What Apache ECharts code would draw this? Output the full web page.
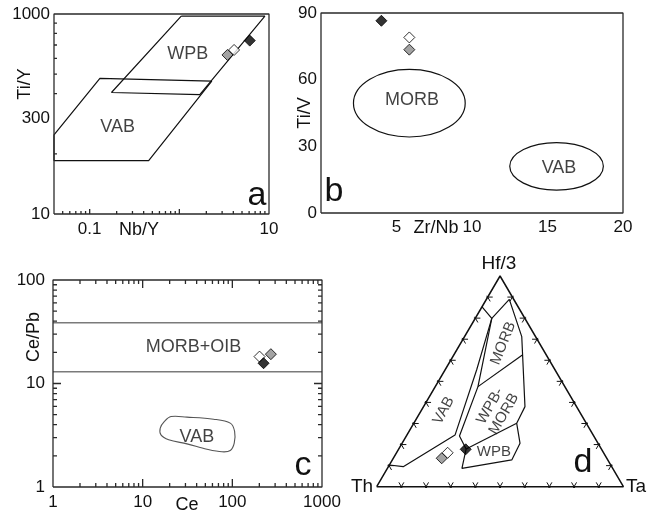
<!DOCTYPE html>
<html><head><meta charset="utf-8">
<script src="https://cdn.jsdelivr.net/npm/echarts@6/dist/echarts.min.js"></script>
<style>html,body{margin:0;padding:0;background:#fff}#c{width:650px;height:513px}</style>
</head><body><div id="c"></div>
<script>
// ---------- Panel a: Ti/Y vs Nb/Y (log-log) ----------
const aXTickValues = [0.1, 10];
const aXTickLabels = ['0.1', '10'];
const aXMajorTicks = [0.1, 1];
const aXMinorTicks = [0.05,0.06,0.07,0.08,0.09,0.2,0.3,0.4,0.5,0.6,0.7,0.8,0.9,2,3,4,5,6,7,8,9];
const aYTickValues = [100, 300, 1000];
const aYTickLabels = ['10', '300', '1000'];
const aYMinorTicks = [200,400,500,600,700,800,900];
const aFieldVAB = [[0.04,249],[0.13,477],[2.3,462],[0.455,185],[0.04,185],[0.04,249]];
const aFieldWPB = [[1.05,975],[9.0,975],[1.69,395],[0.175,405],[1.05,975]];
const aSamples = [[3.44,624],[4.08,661],[6.1,736]];          // gray, white, black
const aFieldLabels = [['WPB',1.24,631],['VAB',0.205,273]];

// ---------- Panel b: Ti/V vs Zr/Nb ----------
const bXTickValues = [5,10,15,20];
const bYTickValues = [0,30,60,90];
const bFields = [['MORB',5.85,49.4,3.7,15.2],['VAB',15.6,21,3.1,10.7]];   // name, cx, cy, rx, ry
const bSamples = [[5.85,73.5],[5.85,79],[4,86.5]];
const bFieldLabels = [['MORB',6.03,50.9],['VAB',15.76,20.3]];

// ---------- Panel c: Ce/Pb vs Ce (log-log) ----------
const cXTickValues = [1,10,100,1000];
const cXTickLabels = ['1','10','100','1000'];
const cYTickValues = [1,10,100];
const cYTickLabels = ['1','10','100'];
const cXMinorTicks = [2,3,4,5,6,7,8,9,20,30,40,50,60,70,80,90,200,300,400,500,600,700,800,900];
const cYMinorTicks = [2,3,4,5,6,7,8,9,20,30,40,50,60,70,80,90];
const cBounds = [38.7, 13.0];
const cFieldVAB = [[20.7,4.79],[31.2,4.73],[61.7,4.52],[94.8,4.14],[106,3.44],[105,2.65],[94.8,2.25],[76.6,2.19],[52.1,2.32],[31.2,2.61],[19.5,2.86],[16,3.19],[15.7,3.71],[17.4,4.28]];
const cSamples = [[269,19.2],[201,18.2],[223,15.7]];
const cFieldLabels = [['MORB+OIB',36.9,22.7],['VAB',40.3,3.03]];

// ---------- Panel d: Th - Hf/3 - Ta ternary (percent: Th, Hf/3, Ta) ----------
const dTriangle = [[100,0,0],[0,100,0],[0,0,100],[100,0,0]];
const dTickFractions = [10,20,30,40,50,60,70,80,90];
const dFieldVAB = [[89.7,10.3,0],[84.5,9.5,6.0],[56.0,24.5,19.5],[31.8,55.4,12.8],[13.4,79.9,6.7],[14.6,85.4,0]];
const dFieldOuter = [[13.4,79.9,6.7],[1.8,88.9,9.3],[5.6,71.2,23.2],[20.9,38.0,41.1],[28.2,30.1,41.7],[31.6,20.6,47.8],[38.9,12.7,48.4],[61.1,8.7,30.2],[54.8,17.9,27.3],[54.4,24.1,21.5],[35.2,47.5,17.3],[13.4,79.9,6.7]];
const dDividerMORB = [[9.7,62.5,27.8],[35.2,47.5,17.3]];
const dDividerWPB = [[28.2,30.1,41.7],[54.8,17.9,27.3]];
const dSamples = [[66.9,13.5,19.6],[63.2,16.1,20.7],[55.05,17.75,27.2]];
const dFieldLabels = [['VAB',59.9,39.6,9.9,62],['MORB',14.7,68.1,17.3,68],['WPB-\nMORB',33.0,36.4,30.6,60],['WPB',44.3,16.5,39.3,0]];

const sampleFill = ['#8c8c8c','#ffffff','#000000'];

// ---------- layout ----------
const GRIDS = [
  {left:54, top:14, width:215, height:200, show:false},
  {left:321, top:13, width:302, height:200, show:false},
  {left:53, top:280, width:269, height:207, show:false},
  {left:376.7, top:276, width:246.7, height:210.7, show:false}
];

// ---------- helpers ----------
const L = Math.log10;
const FONT = '"Liberation Sans", Arial, Helvetica, sans-serif';
const INK = '#111';
const logPts = arr => arr.map(p => [L(p[0]), L(p[1])]);
function tern(p){ const s = p[0]+p[1]+p[2]; const hf = p[1]/s, ta = p[2]/s; return [ta + hf/2, hf]; }
function labelFor(values, labels){ return v => { for (let i=0;i<values.length;i++) if (Math.abs(L(values[i]) - v) < 1e-6) return labels[i]; return ''; }; }
const lblBase = {color: INK, fontSize: 17, fontFamily: FONT};

function logAxis(grid, pos, min, max, labelVals, labelFmt, margin){
  return {gridIndex: grid, type: 'value', position: pos, min: L(min), max: L(max),
    splitLine: {show:false}, splitArea: {show:false}, axisLine: {show:false, onZero:false}, axisTick: {show:false},
    axisLabel: Object.assign({}, lblBase, {margin: margin, customValues: labelVals.map(L), formatter: labelFmt})};
}
function linAxis(grid, min, max, labelVals, margin){
  return {gridIndex: grid, type:'value', min: min, max: max, splitLine:{show:false}, splitArea:{show:false},
    axisLine:{show:false, onZero:false}, axisTick:{show:false},
    axisLabel: Object.assign({}, lblBase, {margin: margin, customValues: labelVals})};
}

const xAxis = [
  logAxis(0,'bottom',0.04,10,aXTickValues,labelFor(aXTickValues,aXTickLabels),7),
  linAxis(1, 0, 20, bXTickValues, 6),
  logAxis(2,'bottom',1,1000,cXTickValues,labelFor(cXTickValues,cXTickLabels),7),
  {gridIndex:3, type:'value', min:0, max:1, show:false}
];
const yAxis = [
  logAxis(0,'left',100,1000,aYTickValues,labelFor(aYTickValues,aYTickLabels),4),
  linAxis(1, 0, 90, bYTickValues, 4),
  logAxis(2,'left',1,100,cYTickValues,labelFor(cYTickValues,cYTickLabels),8),
  {gridIndex:3, type:'value', min:0, max:1, show:false}
];

// Frame as one closed polyline around the axis ranges, with inward tick spikes on the requested sides.
// ticks: {bottom:[[v,lenPx],...], right:[...], top:[...], left:[...]}, values in axis (log) units.
function frameS(ax, g, xr, yr, ticks){
  const dx = (xr[1]-xr[0]) / GRIDS[g].width, dy = (yr[1]-yr[0]) / GRIDS[g].height;
  const srt = (arr, desc) => (arr || []).slice().sort((a,b) => desc ? b[0]-a[0] : a[0]-b[0]);
  const pts = [[xr[0], yr[0]]];
  srt(ticks.bottom).forEach(t => { if (t[0] > xr[0] && t[0] < xr[1]) pts.push([t[0], yr[0]], [t[0], yr[0] + t[1]*dy], [t[0], yr[0]]); });
  pts.push([xr[1], yr[0]]);
  srt(ticks.right).forEach(t => { if (t[0] > yr[0] && t[0] < yr[1]) pts.push([xr[1], t[0]], [xr[1] - t[1]*dx, t[0]], [xr[1], t[0]]); });
  pts.push([xr[1], yr[1]]);
  srt(ticks.top, true).forEach(t => { if (t[0] > xr[0] && t[0] < xr[1]) pts.push([t[0], yr[1]], [t[0], yr[1] - t[1]*dy], [t[0], yr[1]]); });
  pts.push([xr[0], yr[1]]);
  srt(ticks.left, true).forEach(t => { if (t[0] > yr[0] && t[0] < yr[1]) pts.push([xr[0], t[0]], [xr[0] + t[1]*dx, t[0]], [xr[0], t[0]]); });
  pts.push([xr[0], yr[0]]);
  return {type:'line', xAxisIndex: ax, yAxisIndex: ax, showSymbol:false, symbol:'none', silent:true, clip:false, z: 3,
    lineStyle:{color:'#2a2a2a', width:1.3, join:'bevel'}, animation:false, data: pts};
}
const withLen = (vals, len) => vals.map(v => [L(v), len]);

function lineS(ax, data, color, width){
  return {type:'line', xAxisIndex: ax, yAxisIndex: ax, data: data, showSymbol:false, symbol:'none', silent:true,
    lineStyle:{color: color || INK, width: width || 1.2}, z: 2, animation:false, clip:false};
}
function samplesS(ax, data){
  return {type:'scatter', xAxisIndex: ax, yAxisIndex: ax, symbol:'diamond', symbolSize: 11, z: 5, silent:true, clip:false,
    data: data.map((v,i) => ({value: v, itemStyle: {color: sampleFill[i], borderColor: '#000', borderWidth: 1}}))};
}
function labelsS(ax, items, fontSize){
  return {type:'scatter', xAxisIndex: ax, yAxisIndex: ax, symbolSize: 0, z: 4, silent:true, clip:false,
    itemStyle:{color:'#000'},
    label:{show:true, position:'inside', formatter: p => p.name, color: INK, fontSize: fontSize, fontFamily: FONT,
      lineHeight: fontSize + 1, textBorderWidth: 0, textShadowBlur: 0},
    data: items};
}

const aXR = [L(0.04), L(10)], aYR = [L(100), L(1000)], bXR = [0, 20], bYR = [0, 90], cXR = [L(1), L(1000)], cYR = [L(1), L(100)];
const cXT = withLen(cXTickValues, 8).concat(withLen(cXMinorTicks, 4));
const cYT = withLen(cYTickValues, 8).concat(withLen(cYMinorTicks, 4));
const series = [
  // a
  frameS(0, 0, aXR, aYR, {bottom: withLen(aXMajorTicks, 5).concat(withLen(aXMinorTicks, 3)), left: withLen(aYMinorTicks, 3)}),
  lineS(0, logPts(aFieldVAB)),
  lineS(0, logPts(aFieldWPB)),
  labelsS(0, aFieldLabels.map(d => ({name: d[0], value: [L(d[1]), L(d[2])]})), 18),
  samplesS(0, logPts(aSamples)),
  // b
  frameS(1, 1, bXR, bYR, {}),
  {type:'custom', xAxisIndex:1, yAxisIndex:1, silent:true, z:2, data: bFields.map(f => [f[1], f[2]]),
   renderItem: (params, api) => {
     const f = bFields[params.dataIndex];
     const c = api.coord([f[1], f[2]]);
     const s = api.size([f[3], f[4]]);
     return {type:'ellipse', shape:{cx:c[0], cy:c[1], rx:s[0], ry:s[1]}, style:{fill:'none', stroke:INK, lineWidth:1.2}};
   }},
  labelsS(1, bFieldLabels.map(d => ({name: d[0], value: [d[1], d[2]]})), 18),
  samplesS(1, bSamples),
  // c
  frameS(2, 2, cXR, cYR, {bottom: cXT, top: cXT, left: cYT, right: cYT}),
  ...cBounds.map(v => lineS(2, [[L(1), L(v)], [L(1000), L(v)]], '#7a7a7a', 1.5)),
  {type:'custom', xAxisIndex:2, yAxisIndex:2, silent:true, z:2, data: [[L(cFieldVAB[0][0]), L(cFieldVAB[0][1])]],
   renderItem: (params, api) => ({type:'polygon', shape:{points: cFieldVAB.map(p => api.coord([L(p[0]), L(p[1])])), smooth: 0.35},
     style:{fill:'none', stroke:'#555', lineWidth:1.1}})},
  labelsS(2, cFieldLabels.map(d => ({name: d[0], value: [L(d[1]), L(d[2])]})), 18),
  samplesS(2, logPts(cSamples)),
  // d
  lineS(3, dTriangle.map(tern), INK, 1.5),
  lineS(3, dFieldVAB.map(tern)),
  lineS(3, dFieldOuter.map(tern)),
  lineS(3, dDividerMORB.map(tern)),
  lineS(3, dDividerWPB.map(tern)),
  {type:'custom', xAxisIndex:3, yAxisIndex:3, silent:true, z:2,
   data: [0,1,2].flatMap(e => dTickFractions.map(f => [e, f])),
   renderItem: (params, api) => {
     const e = Math.floor(params.dataIndex / dTickFractions.length);
     const f = dTickFractions[params.dataIndex % dTickFractions.length];
     const p = e === 0 ? [100-f, 0, f] : (e === 1 ? [100-f, f, 0] : [0, 100-f, f]);
     const c = api.coord(tern(p));
     const dirs = e === 0 ? [[0.5,-0.866],[-0.5,-0.866]] : (e === 1 ? [[1,0],[0.5,0.866]] : [[-1,0],[-0.5,0.866]]);
     return {type:'group', children: dirs.map(d => ({type:'line',
       shape:{x1:c[0]-d[0]*1.5, y1:c[1]-d[1]*1.5, x2:c[0]+d[0]*5, y2:c[1]+d[1]*5},
       style:{stroke:INK, lineWidth:1}}))};
   }},
  labelsS(3, dFieldLabels.map(d => ({name: d[0], value: tern([d[1], d[2], d[3]]), label:{rotate: d[4]}})), 15),
  samplesS(3, dSamples.map(tern))
];

function txt(x, y, text, size, rot, align){
  return {type:'text', x: x, y: y, rotation: rot || 0, silent:true, z: 10,
    style:{text: text, x:0, y:0, font: size + 'px ' + FONT, fill: INK,
      align: align || 'center', verticalAlign: 'middle', textAlign: align || 'center', textVerticalAlign: 'middle'}};
}

const chart = echarts.init(document.getElementById('c'), null, {renderer:'canvas'});
chart.setOption({
  animation: false,
  backgroundColor: '#fff',
  grid: GRIDS,
  xAxis: xAxis,
  yAxis: yAxis,
  series: series,
  graphic: [
    txt(25, 84, 'Ti/Y', 18, Math.PI/2),
    txt(139, 230, 'Nb/Y', 18),
    txt(257, 196, 'a', 34),
    txt(305, 113, 'Ti/V', 18, Math.PI/2),
    txt(436, 228, 'Zr/Nb', 18),
    txt(334, 192, 'b', 34),
    txt(34, 337, 'Ce/Pb', 18, Math.PI/2),
    txt(187, 505, 'Ce', 18),
    txt(303, 466, 'c', 34),
    txt(499, 264, 'Hf/3', 19),
    txt(362, 487, 'Th', 19),
    txt(626, 487, 'Ta', 19, 0, 'left'),
    txt(583, 463, 'd', 34)
  ]
});
</script></body></html>
